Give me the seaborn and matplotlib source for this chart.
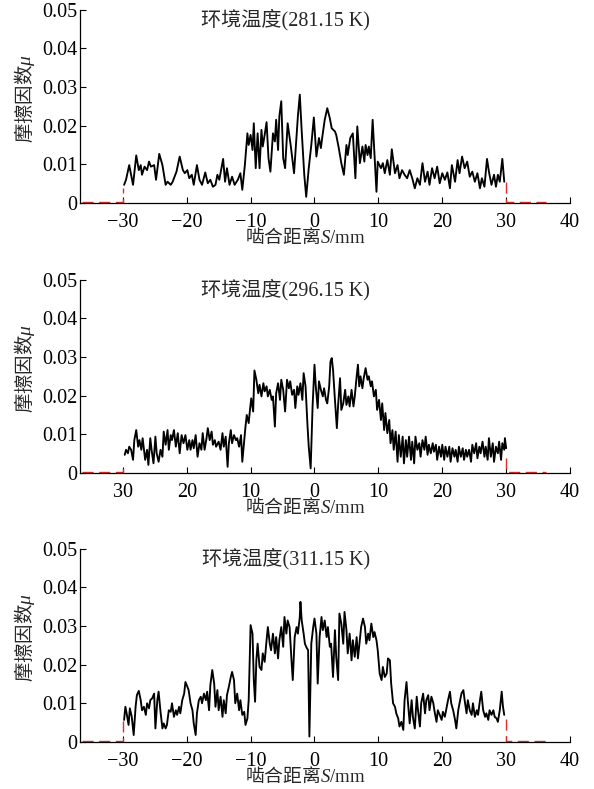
import matplotlib
matplotlib.use("Agg")
import matplotlib.pyplot as plt
import seaborn as sns

# --- data (S in mm, mu dimensionless) ---
temps = ["281.15", "296.15", "311.15"]

x1 = [-29.8, -29.5, -29.0, -28.4, -27.9, -27.5, -27.2, -27.0, -26.6, -26.2,
      -25.9, -25.6, -25.1, -24.8, -24.3, -23.8, -23.3, -23.0, -22.5, -22.2,
      -21.6, -21.1, -20.6, -20.3, -19.9, -19.6, -19.2, -18.9, -18.4, -18.0,
      -17.6, -17.1, -16.7, -16.3, -15.9, -15.5, -15.2, -14.9, -14.3, -14.0,
      -13.7, -13.3, -12.9, -12.5, -12.0, -11.6, -11.3, -10.9, -10.5, -10.3,
      -10.0, -9.7, -9.5, -9.2, -8.9, -8.6, -8.3, -8.1, -7.8, -7.5,
      -7.2, -6.9, -6.5, -6.2, -6.0, -5.7, -5.5, -5.2, -4.9, -4.6,
      -4.2, -3.7, -3.2, -2.6, -2.3, -2.0, -1.6, -1.3, -0.9, -0.5,
      -0.1, 0.3, 0.7, 1.0, 1.2, 1.6, 2.0, 2.4, 2.7, 3.2,
      3.4, 3.8, 4.2, 4.6, 5.0, 5.2, 5.6, 6.0, 6.4, 6.7,
      7.1, 7.5, 7.8, 8.0, 8.3, 8.5, 8.8, 9.1, 9.4, 9.7,
      9.9, 10.4, 10.7, 11.0, 11.4, 11.8, 12.1, 12.6, 13.0, 13.3,
      13.7, 14.1, 14.5, 14.9, 15.3, 15.7, 16.1, 16.5, 16.9, 17.3,
      17.7, 18.0, 18.4, 18.8, 19.2, 19.6, 20.0, 20.4, 20.8, 21.2,
      21.5, 22.0, 22.4, 22.7, 23.1, 23.5, 23.9, 24.3, 24.7, 25.1,
      25.5, 25.9, 26.2, 26.6, 27.0, 27.3, 27.7, 28.1, 28.4, 28.7,
      29.0, 29.4, 29.7]
mu1 = [0.0047, 0.0060, 0.0098, 0.0047, 0.0123, 0.0085, 0.0098, 0.0073, 0.0094, 0.0085,
       0.0107, 0.0094, 0.0098, 0.0060, 0.0127, 0.0098, 0.0047, 0.0055, 0.0047, 0.0055,
       0.0081, 0.0120, 0.0085, 0.0077, 0.0085, 0.0064, 0.0073, 0.0047, 0.0098, 0.0060,
       0.0047, 0.0079, 0.0051, 0.0060, 0.0042, 0.0047, 0.0073, 0.0060, 0.0114, 0.0055,
       0.0090, 0.0047, 0.0068, 0.0047, 0.0060, 0.0077, 0.0034, 0.0098, 0.0180, 0.0150,
       0.0176, 0.0137, 0.0206, 0.0090, 0.0180, 0.0090, 0.0189, 0.0146, 0.0176, 0.0209,
       0.0116, 0.0081, 0.0180, 0.0159, 0.0215, 0.0137, 0.0224, 0.0263, 0.0116, 0.0090,
       0.0206, 0.0146, 0.0077, 0.0224, 0.0280, 0.0185, 0.0073, 0.0016, 0.0090, 0.0150,
       0.0221, 0.0120, 0.0168, 0.0142, 0.0168, 0.0215, 0.0245, 0.0219, 0.0193, 0.0185,
       0.0176, 0.0142, 0.0103, 0.0073, 0.0150, 0.0124, 0.0168, 0.0180, 0.0064, 0.0198,
       0.0103, 0.0146, 0.0107, 0.0150, 0.0124, 0.0146, 0.0116, 0.0215, 0.0120, 0.0029,
       0.0107, 0.0090, 0.0103, 0.0077, 0.0111, 0.0073, 0.0139, 0.0077, 0.0098, 0.0064,
       0.0085, 0.0073, 0.0064, 0.0085, 0.0064, 0.0038, 0.0064, 0.0047, 0.0103, 0.0055,
       0.0081, 0.0047, 0.0090, 0.0064, 0.0094, 0.0051, 0.0077, 0.0060, 0.0079, 0.0038,
       0.0098, 0.0055, 0.0111, 0.0077, 0.0120, 0.0090, 0.0107, 0.0068, 0.0081, 0.0055,
       0.0077, 0.0038, 0.0064, 0.0042, 0.0114, 0.0081, 0.0047, 0.0073, 0.0042, 0.0073,
       0.0055, 0.0114, 0.0055]

x2 = [-29.7, -29.5, -29.2, -29.0, -28.7, -28.4, -28.2, -27.9, -27.6, -27.4,
      -27.1, -26.9, -26.5, -26.2, -26.0, -25.7, -25.5, -25.2, -24.9, -24.7,
      -24.4, -24.1, -23.8, -23.6, -23.3, -23.0, -22.8, -22.5, -22.3, -22.0,
      -21.7, -21.4, -21.1, -20.8, -20.5, -20.2, -19.9, -19.6, -19.4, -19.1,
      -18.9, -18.6, -18.3, -18.0, -17.7, -17.5, -17.2, -16.9, -16.7, -16.4,
      -16.1, -15.9, -15.6, -15.4, -15.0, -14.7, -14.4, -14.2, -13.9, -13.6,
      -13.4, -13.1, -12.9, -12.6, -12.3, -12.1, -11.8, -11.5, -11.3, -11.0,
      -10.8, -10.6, -10.3, -10.1, -9.9, -9.6, -9.4, -9.1, -8.8, -8.6,
      -8.3, -8.0, -7.8, -7.5, -7.3, -7.0, -6.7, -6.5, -6.2, -6.0,
      -5.7, -5.4, -5.2, -4.9, -4.6, -4.3, -4.0, -3.8, -3.5, -3.2,
      -3.0, -2.7, -2.5, -2.2, -1.9, -1.7, -1.4, -1.1, -0.9, -0.6,
      -0.3, 0.0, 0.2, 0.5, 0.7, 1.0, 1.3, 1.5, 1.8, 2.0,
      2.3, 2.5, 2.7, 2.9, 3.2, 3.5, 3.7, 4.0, 4.2, 4.5,
      4.8, 5.0, 5.3, 5.5, 5.8, 6.1, 6.3, 6.6, 6.8, 7.0,
      7.2, 7.5, 7.7, 8.0, 8.3, 8.5, 8.8, 9.0, 9.3, 9.6,
      9.8, 10.1, 10.4, 10.6, 10.9, 11.1, 11.4, 11.7, 11.9, 12.2,
      12.4, 12.7, 13.0, 13.2, 13.5, 13.8, 14.0, 14.3, 14.5, 14.8,
      15.1, 15.3, 15.6, 15.8, 16.1, 16.4, 16.6, 16.9, 17.2, 17.4,
      17.7, 17.9, 18.2, 18.5, 18.7, 19.0, 19.2, 19.5, 19.8, 20.0,
      20.3, 20.5, 20.8, 21.1, 21.3, 21.6, 21.9, 22.1, 22.4, 22.6,
      22.9, 23.2, 23.4, 23.7, 23.9, 24.2, 24.5, 24.7, 25.0, 25.3,
      25.5, 25.8, 26.0, 26.3, 26.6, 26.8, 27.1, 27.3, 27.6, 27.9,
      28.1, 28.4, 28.7, 28.9, 29.2, 29.4, 29.7, 29.8, 30.0]
mu2 = [0.0047, 0.0060, 0.0051, 0.0068, 0.0060, 0.0034, 0.0085, 0.0111, 0.0068, 0.0085,
       0.0060, 0.0090, 0.0034, 0.0060, 0.0021, 0.0090, 0.0060, 0.0025, 0.0094, 0.0051,
       0.0029, 0.0060, 0.0042, 0.0107, 0.0073, 0.0111, 0.0060, 0.0098, 0.0085, 0.0111,
       0.0068, 0.0103, 0.0051, 0.0098, 0.0077, 0.0098, 0.0060, 0.0085, 0.0060, 0.0085,
       0.0064, 0.0098, 0.0042, 0.0077, 0.0060, 0.0103, 0.0060, 0.0090, 0.0116, 0.0085,
       0.0107, 0.0073, 0.0085, 0.0068, 0.0081, 0.0060, 0.0103, 0.0068, 0.0094, 0.0016,
       0.0077, 0.0111, 0.0077, 0.0098, 0.0085, 0.0090, 0.0068, 0.0098, 0.0029, 0.0085,
       0.0120, 0.0150, 0.0129, 0.0163, 0.0193, 0.0159, 0.0265, 0.0241, 0.0206, 0.0228,
       0.0198, 0.0232, 0.0211, 0.0224, 0.0198, 0.0215, 0.0189, 0.0198, 0.0120, 0.0206,
       0.0232, 0.0189, 0.0241, 0.0215, 0.0159, 0.0241, 0.0219, 0.0237, 0.0202, 0.0215,
       0.0168, 0.0224, 0.0202, 0.0232, 0.0189, 0.0258, 0.0224, 0.0124, 0.0068, 0.0012,
       0.0172, 0.0280, 0.0224, 0.0168, 0.0237, 0.0215, 0.0198, 0.0219, 0.0189, 0.0180,
       0.0224, 0.0288, 0.0297, 0.0267, 0.0189, 0.0116, 0.0176, 0.0245, 0.0163, 0.0180,
       0.0215, 0.0176, 0.0198, 0.0172, 0.0215, 0.0172, 0.0198, 0.0250, 0.0280, 0.0224,
       0.0250, 0.0219, 0.0245, 0.0271, 0.0241, 0.0250, 0.0224, 0.0237, 0.0198, 0.0215,
       0.0163, 0.0189, 0.0137, 0.0180, 0.0111, 0.0155, 0.0103, 0.0137, 0.0077, 0.0111,
       0.0060, 0.0107, 0.0029, 0.0098, 0.0042, 0.0094, 0.0025, 0.0085, 0.0042, 0.0094,
       0.0034, 0.0081, 0.0025, 0.0094, 0.0060, 0.0077, 0.0042, 0.0085, 0.0060, 0.0094,
       0.0047, 0.0073, 0.0051, 0.0077, 0.0055, 0.0073, 0.0034, 0.0068, 0.0042, 0.0073,
       0.0034, 0.0068, 0.0042, 0.0068, 0.0029, 0.0064, 0.0042, 0.0060, 0.0029, 0.0068,
       0.0042, 0.0064, 0.0034, 0.0060, 0.0042, 0.0060, 0.0029, 0.0073, 0.0051, 0.0077,
       0.0038, 0.0068, 0.0051, 0.0081, 0.0042, 0.0068, 0.0034, 0.0090, 0.0042, 0.0077,
       0.0029, 0.0068, 0.0051, 0.0081, 0.0034, 0.0077, 0.0060, 0.0090, 0.0064]

x3 = [-29.8, -29.6, -29.4, -29.1, -28.9, -28.6, -28.3, -28.0, -27.8, -27.5,
      -27.2, -27.0, -26.7, -26.4, -26.2, -25.9, -25.7, -25.4, -25.1, -24.9,
      -24.6, -24.4, -24.1, -23.8, -23.6, -23.3, -23.1, -22.8, -22.5, -22.3,
      -22.0, -21.7, -21.5, -21.2, -21.0, -20.7, -20.4, -20.2, -19.9, -19.7,
      -19.4, -19.1, -18.9, -18.6, -18.4, -18.1, -17.8, -17.6, -17.3, -17.0,
      -16.8, -16.5, -16.3, -16.0, -15.7, -15.5, -15.2, -15.0, -14.7, -14.4,
      -14.2, -13.9, -13.7, -13.4, -13.1, -12.9, -12.6, -12.4, -12.1, -11.8,
      -11.6, -11.3, -11.0, -10.8, -10.5, -10.3, -10.0, -9.7, -9.5, -9.3,
      -9.1, -8.9, -8.6, -8.3, -8.1, -7.8, -7.5, -7.3, -7.0, -6.8,
      -6.5, -6.2, -6.0, -5.7, -5.5, -5.2, -4.9, -4.7, -4.4, -4.2,
      -3.9, -3.6, -3.4, -3.1, -2.8, -2.6, -2.3, -2.2, -2.0, -1.7,
      -1.5, -1.3, -1.0, -0.8, -0.5, -0.2, 0.0, 0.3, 0.5, 0.8,
      1.1, 1.3, 1.6, 1.9, 2.1, 2.4, 2.6, 2.9, 3.2, 3.4,
      3.7, 3.9, 4.2, 4.5, 4.7, 5.0, 5.2, 5.5, 5.8, 6.0,
      6.3, 6.6, 6.8, 7.1, 7.3, 7.6, 7.9, 8.1, 8.4, 8.6,
      8.9, 9.2, 9.4, 9.7, 9.9, 10.2, 10.5, 10.7, 11.0, 11.3,
      11.5, 11.8, 12.0, 12.3, 12.6, 12.8, 13.1, 13.3, 13.6, 13.9,
      14.1, 14.4, 14.6, 14.9, 15.2, 15.4, 15.7, 16.0, 16.2, 16.5,
      16.7, 17.0, 17.3, 17.5, 17.8, 18.0, 18.3, 18.6, 18.8, 19.1,
      19.3, 19.6, 19.9, 20.1, 20.4, 20.7, 20.9, 21.2, 21.4, 21.7,
      22.0, 22.2, 22.5, 22.7, 23.0, 23.3, 23.5, 23.8, 24.0, 24.3,
      24.6, 24.8, 25.1, 25.4, 25.6, 25.9, 26.1, 26.4, 26.7, 26.9,
      27.2, 27.4, 27.7, 28.0, 28.2, 28.5, 28.7, 29.0, 29.3, 29.5,
      29.7]
mu3 = [0.0057, 0.0091, 0.0074, 0.0044, 0.0087, 0.0065, 0.0018, 0.0091, 0.0121, 0.0132,
       0.0108, 0.0082, 0.0091, 0.0070, 0.0100, 0.0087, 0.0108, 0.0113, 0.0125, 0.0035,
       0.0108, 0.0130, 0.0078, 0.0035, 0.0048, 0.0035, 0.0044, 0.0082, 0.0078, 0.0100,
       0.0065, 0.0082, 0.0070, 0.0091, 0.0074, 0.0108, 0.0125, 0.0155, 0.0143, 0.0134,
       0.0100, 0.0082, 0.0048, 0.0018, 0.0074, 0.0108, 0.0117, 0.0100, 0.0125, 0.0108,
       0.0130, 0.0082, 0.0147, 0.0186, 0.0151, 0.0091, 0.0134, 0.0082, 0.0117, 0.0065,
       0.0108, 0.0074, 0.0121, 0.0143, 0.0168, 0.0181, 0.0160, 0.0100, 0.0125, 0.0082,
       0.0108, 0.0070, 0.0078, 0.0044, 0.0061, 0.0108, 0.0302, 0.0280, 0.0160, 0.0104,
       0.0211, 0.0254, 0.0194, 0.0186, 0.0229, 0.0207, 0.0263, 0.0297, 0.0254, 0.0237,
       0.0280, 0.0229, 0.0271, 0.0216, 0.0263, 0.0297, 0.0246, 0.0323, 0.0280, 0.0314,
       0.0297, 0.0211, 0.0160, 0.0271, 0.0297, 0.0280, 0.0323, 0.0362, 0.0314, 0.0280,
       0.0254, 0.0246, 0.0237, 0.0014, 0.0254, 0.0297, 0.0319, 0.0280, 0.0151, 0.0271,
       0.0323, 0.0289, 0.0314, 0.0271, 0.0297, 0.0246, 0.0254, 0.0168, 0.0289, 0.0220,
       0.0160, 0.0332, 0.0306, 0.0254, 0.0336, 0.0289, 0.0229, 0.0280, 0.0211, 0.0263,
       0.0220, 0.0271, 0.0216, 0.0263, 0.0297, 0.0319, 0.0297, 0.0254, 0.0280, 0.0263,
       0.0306, 0.0271, 0.0284, 0.0263, 0.0237, 0.0177, 0.0160, 0.0194, 0.0168, 0.0177,
       0.0216, 0.0211, 0.0151, 0.0100, 0.0091, 0.0074, 0.0061, 0.0040, 0.0052, 0.0031,
       0.0108, 0.0155, 0.0108, 0.0048, 0.0108, 0.0065, 0.0035, 0.0117, 0.0082, 0.0040,
       0.0100, 0.0125, 0.0074, 0.0108, 0.0121, 0.0082, 0.0117, 0.0100, 0.0078, 0.0052,
       0.0082, 0.0070, 0.0057, 0.0078, 0.0065, 0.0091, 0.0108, 0.0130, 0.0100, 0.0082,
       0.0057, 0.0035, 0.0082, 0.0100, 0.0125, 0.0134, 0.0108, 0.0074, 0.0108, 0.0082,
       0.0070, 0.0100, 0.0065, 0.0082, 0.0070, 0.0108, 0.0130, 0.0082, 0.0065, 0.0074,
       0.0057, 0.0082, 0.0070, 0.0082, 0.0065, 0.0061, 0.0052, 0.0082, 0.0130, 0.0091,
       0.0070]

# red dashed parts outside the meshing zone
edge_left_x = [-36.4, -30.0, -30.0]
edge_right_x = [30.0, 30.0, 36.3]
edge_base = 0.0003
edge_left_top = [0.0040, 0.0015, 0.0057]
edge_right_top = [0.0054, 0.0040, 0.0060]

xticks = [-30, -20, -10, 0, 10, 20, 30, 40]
xlabels_signed = ["\u221230", "\u221220", "\u221210", "0", "10", "20", "30", "40"]
xlabels_plain = ["30", "20", "10", "0", "10", "20", "30", "40"]
yticks = [0, 0.01, 0.02, 0.03, 0.04, 0.05]
ylabels = ["0", "0.01", "0.02", "0.03", "0.04", "0.05"]

xs = [x1, x2, x3]
mus = [mu1, mu2, mu3]
tick_sets = [xlabels_signed, xlabels_plain, xlabels_signed]

# --- style ---
sns.set_style("ticks")
plt.rcParams['font.family'] = ['Liberation Serif', 'Noto Sans CJK SC']
plt.rcParams['mathtext.fontset'] = 'custom'
plt.rcParams['mathtext.rm'] = 'Liberation Serif'
plt.rcParams['mathtext.it'] = 'Liberation Serif:italic'
plt.rcParams['axes.linewidth'] = 0.9
plt.rcParams['axes.edgecolor'] = 'black'

fig = plt.figure(figsize=(5.94, 7.89), dpi=100)
bottoms = [0.7427, 0.4005, 0.0596]

for i in range(3):
    ax = fig.add_axes([0.1347, bottoms[i], 0.825, 0.2452])

    sns.lineplot(x=xs[i], y=mus[i], ax=ax, color='black', linewidth=1.35,
                 estimator=None, sort=False)
    ax.plot(edge_left_x, [edge_base, edge_base, edge_left_top[i]],
            color='#e42a2a', linewidth=1.0, dashes=(8, 4))
    ax.plot(edge_right_x, [edge_right_top[i], edge_base, edge_base],
            color='#e42a2a', linewidth=1.0, dashes=(8, 4))

    ax.set_xlim(-36.7, 40)
    ax.set_ylim(0, 0.05)
    ax.set_xticks(xticks)
    ax.set_xticklabels(tick_sets[i])
    ax.set_yticks(yticks)
    ax.set_yticklabels(ylabels)
    sns.despine(ax=ax)
    ax.tick_params(direction='in', length=4, width=0.8, labelsize=14.5, colors='black')
    ax.tick_params(axis='x', pad=7)
    ax.tick_params(axis='y', pad=2)

    ax.set_xlabel("啮合距离$S\\mathrm{/mm}$", fontsize=13.5, family='Noto Sans CJK SC',
                  va='center')
    ax.xaxis.set_label_coords(0.46, -0.18)
    ax.set_ylabel("摩擦因数$\\mu$", fontsize=14, family='Noto Sans CJK SC')
    ax.yaxis.set_label_coords(-0.088, 0.54)

    ax.text(0.42, 0.95, f"环境温度({temps[i]} K)", transform=ax.transAxes,
            ha='center', va='center', fontsize=14.5,
            family=['Liberation Serif', 'Noto Sans CJK SC'])

fig.savefig("out.png", dpi=100, facecolor='white')
